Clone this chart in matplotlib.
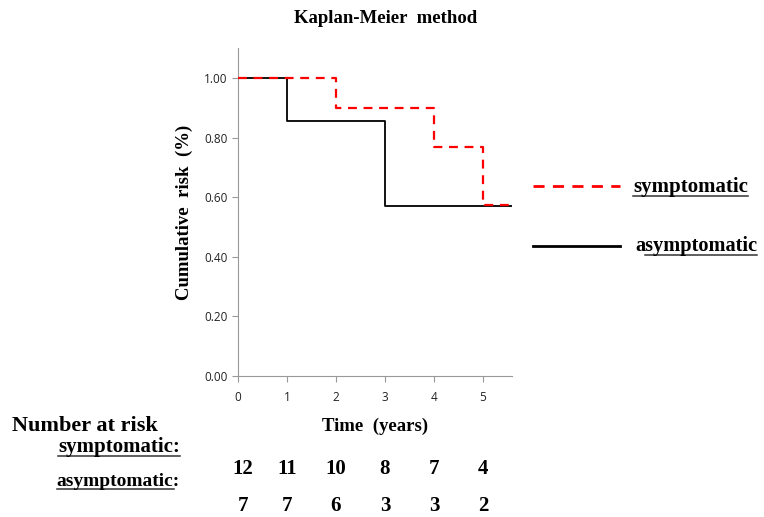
import matplotlib.pyplot as plt
from matplotlib.lines import Line2D

# Données
years = [0, 1, 2, 3, 4, 5]
sympt_t = [0, 2, 4, 5, 5.6]
sympt_s = [1.0, 0.90, 0.77, 0.575, 0.575]
asympt_t = [0, 1, 3, 5.6]
asympt_s = [1.0, 0.857, 0.571, 0.571]
risk_sympt = [12, 11, 10, 8, 7, 4]
risk_asympt = [7, 7, 6, 3, 3, 2]
yticks = [0.0, 0.2, 0.4, 0.6, 0.8, 1.0]

serif = "Liberation Serif"
grey = "#999999"

fig = plt.figure(figsize=(7.64, 5.17), dpi=100)
ax = fig.add_axes([0.3115, 0.2727, 0.359, 0.634])

ax.step(sympt_t, sympt_s, where="post", color="red", ls=(0, (4, 3)), lw=1.6, zorder=3)
ax.step(asympt_t, asympt_s, where="post", color="black", lw=1.3, zorder=2)

ax.set_xlim(0, 5.6)
ax.set_ylim(0, 1.1)
ax.set_xticks(years)
ax.set_yticks(yticks)
ax.set_yticklabels([f"{v:.2f}" for v in yticks])
ax.tick_params(labelsize=8.5, colors="#222222", length=4)
ax.tick_params(axis="both", color=grey)
ax.tick_params(axis="x", pad=7)
for s in ["top", "right"]:
    ax.spines[s].set_visible(False)
for s in ["left", "bottom"]:
    ax.spines[s].set_color(grey)
for lab in ax.get_xticklabels() + ax.get_yticklabels():
    lab.set_family("Open Sans")

ax.set_ylabel("Cumulative  risk  (%)", family=serif, fontweight="bold", fontsize=13.5, labelpad=8)
ax.set_xlabel("Time  (years)", family=serif, fontweight="bold", fontsize=13.5, labelpad=10)

fig.text(0.505, 0.965, "Kaplan-Meier  method", family=serif, fontweight="bold",
         fontsize=13.5, ha="center", va="center")

# Légende à droite
leg_x0, leg_x1 = 533 / 764, 620 / 764
fig.add_artist(Line2D([leg_x0, leg_x1], [1 - 186 / 517] * 2, color="red",
                      ls=(0, (4, 3)), lw=2.0, transform=fig.transFigure))
fig.add_artist(Line2D([leg_x0, leg_x1], [1 - 246 / 517] * 2, color="black",
                      lw=2.0, transform=fig.transFigure))

# (texte, début, fin) : fraction de la largeur à souligner
underlined = []
t1 = fig.text(633 / 764, 1 - 187 / 517, "symptomatic", family=serif, fontweight="bold",
              fontsize=15, va="center")
underlined.append((t1, 0.0, 1.0))
t2 = fig.text(635 / 764, 1 - 246 / 517, "asymptomatic", family=serif, fontweight="bold",
              fontsize=14.7, va="center")
underlined.append((t2, 0.085, 1.0))

# Tableau "Number at risk"
fig.text(12 / 764, 1 - 426 / 517, "Number at risk", family=serif, fontweight="bold",
         fontsize=16, va="center")
t3 = fig.text(180 / 764, 1 - 447 / 517, "symptomatic:", family=serif, fontweight="bold",
              fontsize=15, va="center", ha="right")
underlined.append((t3, 0.0, 1.0))
t4 = fig.text(180 / 764, 1 - 481 / 517, "asymptomatic:", family=serif, fontweight="bold",
              fontsize=14, va="center", ha="right")
underlined.append((t4, 0.0, 0.955))

for yr, n1, n2 in zip(years, risk_sympt, risk_asympt):
    xf = ax.transData.transform((yr, 0))[0] / fig.bbox.width
    if yr == 0:
        xf += 5 / 764
    fig.text(xf, 1 - 469 / 517, str(n1), family=serif, fontweight="bold",
             fontsize=15, ha="center", va="center")
    fig.text(xf, 1 - 506 / 517, str(n2), family=serif, fontweight="bold",
             fontsize=15, ha="center", va="center")

# Soulignement manuel
fig.canvas.draw()
r = fig.canvas.get_renderer()
for t, f0, f1 in underlined:
    bb = t.get_window_extent(r)
    x0 = (bb.x0 + bb.width * f0) / fig.bbox.width
    x1 = (bb.x0 + bb.width * f1) / fig.bbox.width
    y = (bb.y0 + 1) / fig.bbox.height
    fig.add_artist(Line2D([x0, x1], [y, y], color="#333333", lw=1.1,
                          transform=fig.transFigure))

fig.savefig("out.png", dpi=100)
